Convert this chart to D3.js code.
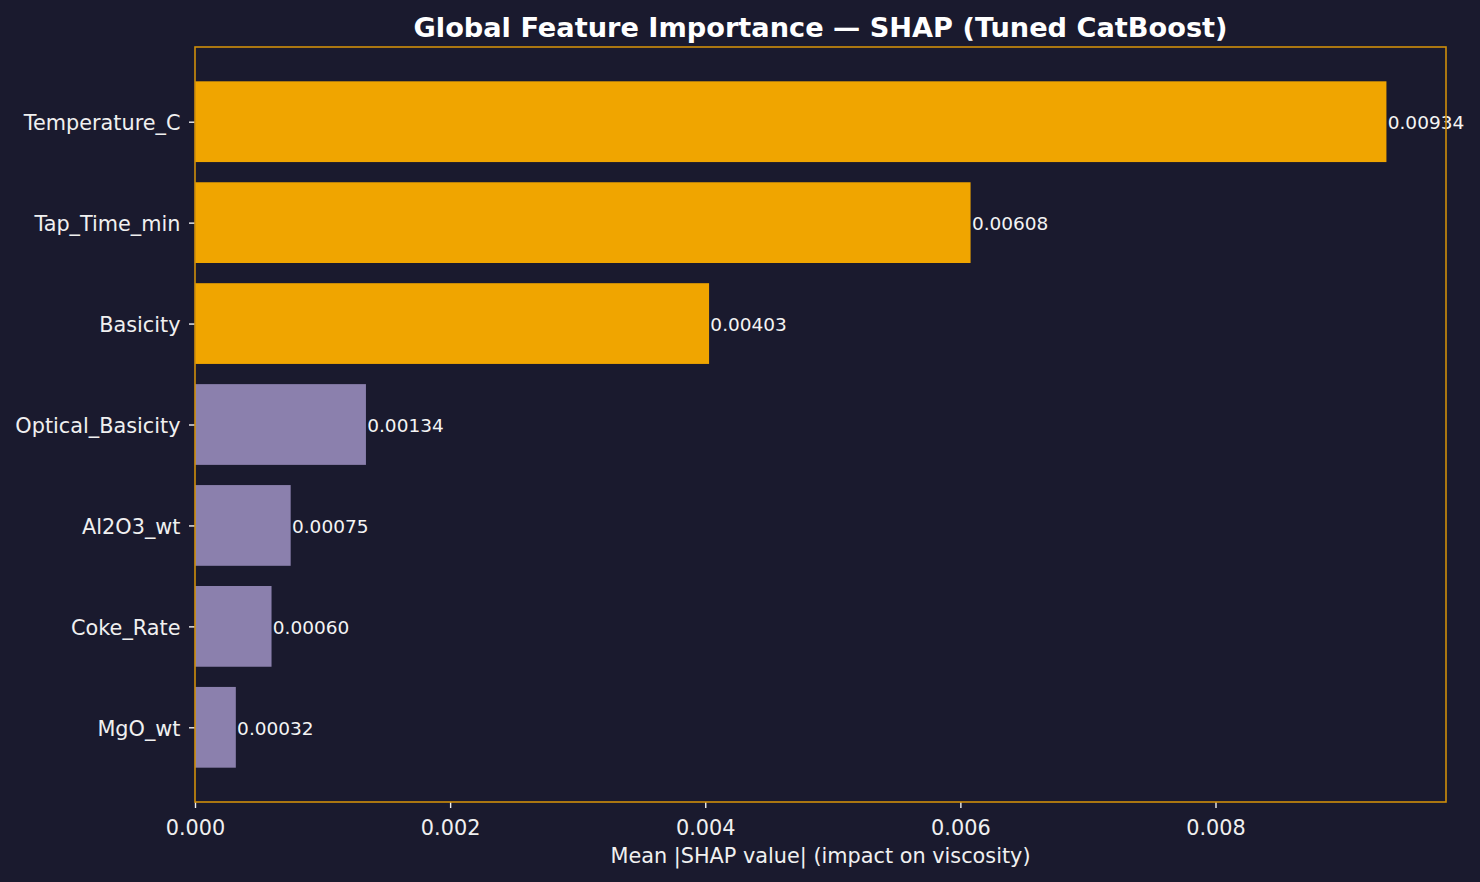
<!DOCTYPE html>
<html><head><meta charset="utf-8">
<script src="https://cdn.jsdelivr.net/npm/d3@7"></script>
<style>html,body{margin:0;padding:0;background:#1a1a2e;}svg{display:block;}</style>
</head><body>
<svg id="c" width="1480" height="882"></svg>
<script>
const features = ["Temperature_C","Tap_Time_min","Basicity","Optical_Basicity","Al2O3_wt","Coke_Rate","MgO_wt"];
const importance = [0.00934,0.00608,0.00403,0.00134,0.00075,0.00060,0.00032];
const valueLabels = ["0.00934","0.00608","0.00403","0.00134","0.00075","0.00060","0.00032"];
const highlighted = [true,true,true,false,false,false,false];
const xTicks = [0,0.002,0.004,0.006,0.008];

const svg = d3.select("#c");
const L=195,R=1446,T=47,B=802;
const font = "DejaVu Sans, sans-serif";
svg.append("rect").attr("width",1480).attr("height",882).attr("fill","#1a1a2e");

const x = d3.scaleLinear().domain([0, d3.max(importance)*1.05]).range([L,R]);
const n = features.length;
const y = d3.scaleLinear().domain([-0.74, n-1+0.74]).range([T,B]);

svg.selectAll("rect.bar").data(importance).enter().append("rect")
  .attr("class","bar")
  .attr("x",x(0)).attr("y",(d,i)=>y(i-0.4))
  .attr("width",d=>x(d)-x(0)).attr("height",(d,i)=>y(i+0.4)-y(i-0.4))
  .attr("fill",(d,i)=>highlighted[i]?"#f0a500":"#8b80ad");

svg.selectAll("text.val").data(importance).enter().append("text")
  .attr("class","val")
  .attr("x",d=>x(d)+1.3).attr("y",(d,i)=>y(i)+0.8).attr("dy","0.37em")
  .attr("font-family",font).attr("font-size",18.5).attr("fill","#f4f4f4")
  .text((d,i)=>valueLabels[i]);

// x axis
const xAxis = d3.axisBottom(x).tickValues(xTicks).tickFormat(d3.format(".3f")).tickSize(6).tickPadding(6);
const gx = svg.append("g").attr("transform",`translate(0,${B})`).call(xAxis);
gx.select(".domain").remove();
gx.selectAll("line").attr("stroke","#f0f0f0").attr("stroke-width",1.4);
gx.selectAll("text").attr("font-family",font).attr("font-size",20.8).attr("fill","#f0f0f0").attr("y",32.5).attr("dy","0");

// y axis
const yAxis = d3.axisLeft(y).tickValues(d3.range(n)).tickFormat(i=>features[i]).tickSize(6).tickPadding(8.5);
const gy = svg.append("g").attr("transform",`translate(${L},0)`).call(yAxis);
gy.select(".domain").remove();
gy.selectAll("line").attr("stroke","#f0f0f0").attr("stroke-width",1.4);
gy.selectAll("text").attr("font-family",font).attr("font-size",20.8).attr("fill","#f0f0f0").attr("dy","0.38em");

// spines
svg.append("rect").attr("x",L).attr("y",T).attr("width",R-L).attr("height",B-T)
  .attr("fill","none").attr("stroke","#cf8e0a").attr("stroke-width",1.6);

svg.append("text").attr("x",(L+R)/2).attr("y",863).attr("text-anchor","middle")
  .attr("font-family",font).attr("font-size",20.8).attr("fill","#f0f0f0")
  .text("Mean |SHAP value| (impact on viscosity)");

svg.append("text").attr("x",(L+R)/2).attr("y",36.5).attr("text-anchor","middle")
  .attr("font-family",font).attr("font-size",27.2).attr("font-weight","bold").attr("fill","#ffffff")
  .text("Global Feature Importance — SHAP (Tuned CatBoost)");
</script>
</body></html>
